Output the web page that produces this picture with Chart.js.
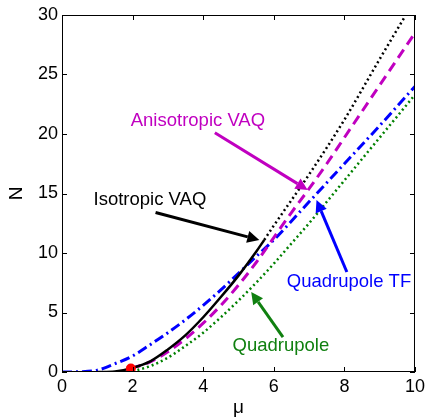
<!DOCTYPE html>
<html>
<head>
<meta charset="utf-8">
<script src="https://cdn.jsdelivr.net/npm/chart.js@4"></script>
<style>
  html, body { margin: 0; padding: 0; background: #fff; }
  #wrap { width: 429px; height: 419px; }
</style>
</head>
<body>
<div id="wrap"><canvas id="chart" width="429" height="419"></canvas></div>
<script>
// Isotropic VAQ, solid part and dotted continuation
const muIsoSolid = [1.0, 1.5, 2.0, 2.5, 3.0, 3.5, 4.0, 4.5, 5.0, 5.5, 5.73];
const nIsoSolid  = [0.0, 0.05, 0.35, 0.9, 1.9, 3.1, 4.6, 6.3, 8.1, 10.1, 11.1];
const muIsoDot = [5.73, 6.0, 7.0, 8.0, 9.0, 9.7];
const nIsoDot  = [11.1, 12.3, 16.6, 21.2, 26.3, 29.8];

// Anisotropic VAQ
const muAniso = [1.95, 2.5, 3.0, 3.5, 4.0, 4.5, 5.0, 5.5, 6.0, 6.5, 7.0, 7.5, 8.0, 8.5, 9.0, 9.5, 10.0];
const nAniso  = [0.3, 0.85, 1.7, 2.8, 4.1, 5.6, 7.3, 9.2, 11.3, 13.4, 15.4, 17.5, 19.7, 21.9, 24.1, 26.3, 28.5];

// Quadrupole TF
const muQTF = [0.0, 0.5, 1.0, 1.5, 2.0, 2.5, 3.0, 3.5, 4.0, 4.5, 5.0, 5.5, 6.0, 7.0, 8.0, 9.0, 10.0];
const nQTF  = [0.0, 0.02, 0.15, 0.7, 1.35, 2.3, 3.3, 4.4, 5.6, 6.9, 8.3, 9.7, 11.1, 14.3, 17.5, 20.7, 24.0];

// Quadrupole
const muQuad = [2.0, 2.5, 3.0, 3.5, 4.0, 4.5, 5.0, 5.5, 6.0, 6.5, 7.0, 7.5, 8.0, 8.5, 9.0, 9.5, 10.0];
const nQuad  = [0.05, 0.5, 1.2, 2.2, 3.3, 4.6, 6.0, 7.5, 9.1, 10.8, 12.5, 14.3, 16.1, 17.9, 19.7, 21.5, 23.3];

// red marker
const muDot = [1.95];
const nDot  = [0.3];

const xTicks = [0, 2, 4, 6, 8, 10];
const yTicks = [0, 5, 10, 15, 20, 25, 30];

// labels with arrows
const noteText   = ['Anisotropic VAQ', 'Isotropic VAQ', 'Quadrupole TF', 'Quadrupole'];
const noteColor  = ['#c000c0', '#000000', '#0000ff', '#108010'];
const noteMu     = [3.85, 2.49, 8.13, 6.2];
const noteN      = [21.1, 14.45, 7.56, 2.2];
const arrowFromMu = [4.33, 2.65, 8.07, 6.26];
const arrowFromN  = [20.1, 13.4, 8.4, 2.94];
const arrowToMu   = [6.96, 5.59, 7.21, 5.36];
const arrowToN    = [15.3, 11.1, 14.45, 6.72];

function pts(xs, ys) { return xs.map((x, i) => ({x: x, y: ys[i]})); }

const FONT = '"Liberation Sans", Arial, Helvetica, sans-serif';

const frame = {
  id: 'frame',
  afterDraw(chart) {
    const c = chart.ctx, a = chart.chartArea;
    const xs = chart.scales.x, ys = chart.scales.y;
    c.save();
    c.strokeStyle = '#000';
    c.lineWidth = 1;
    c.strokeRect(a.left + 0.5, a.top + 0.5, a.right - a.left - 1, a.bottom - a.top - 1);
    c.beginPath();
    xTicks.forEach(v => {
      const px = Math.round(xs.getPixelForValue(v)) + 0.5;
      c.moveTo(px, a.bottom); c.lineTo(px, a.bottom - 5);
      c.moveTo(px, a.top); c.lineTo(px, a.top + 5);
    });
    yTicks.forEach(v => {
      const py = Math.round(ys.getPixelForValue(v)) + 0.5;
      c.moveTo(a.left, py); c.lineTo(a.left + 5, py);
      c.moveTo(a.right, py); c.lineTo(a.right - 5, py);
    });
    c.stroke();

    // annotations
    c.font = '18.5px ' + FONT;
    c.textAlign = 'center';
    c.textBaseline = 'middle';
    noteText.forEach((t, i) => {
      c.fillStyle = noteColor[i];
      c.fillText(t, xs.getPixelForValue(noteMu[i]), ys.getPixelForValue(noteN[i]));
      const x0 = xs.getPixelForValue(arrowFromMu[i]), y0 = ys.getPixelForValue(arrowFromN[i]);
      const x1 = xs.getPixelForValue(arrowToMu[i]), y1 = ys.getPixelForValue(arrowToN[i]);
      const ang = Math.atan2(y1 - y0, x1 - x0);
      const hl = 12, hw = 6;
      const bx = x1 - hl * Math.cos(ang), by = y1 - hl * Math.sin(ang);
      c.strokeStyle = noteColor[i];
      c.lineWidth = 3;
      c.beginPath(); c.moveTo(x0, y0); c.lineTo(bx, by); c.stroke();
      c.beginPath();
      c.moveTo(x1, y1);
      c.lineTo(bx + hw * Math.sin(ang), by - hw * Math.cos(ang));
      c.lineTo(bx - hw * Math.sin(ang), by + hw * Math.cos(ang));
      c.closePath(); c.fill();
    });
    c.restore();
  }
};

const ctx = document.getElementById('chart').getContext('2d');
new Chart(ctx, {
  type: 'line',
  data: {
    datasets: [
      {data: pts(muDot, nDot), showLine: false, pointRadius: 5, pointBackgroundColor: '#ff0000', pointBorderWidth: 0},
      {data: pts(muIsoSolid, nIsoSolid), borderColor: '#000', borderWidth: 2.5},
      {data: pts(muIsoDot, nIsoDot), borderColor: '#000', borderWidth: 2.5, borderDash: [2, 3]},
      {data: pts(muAniso, nAniso), borderColor: '#c000c0', borderWidth: 3, borderDash: [10, 6]},
      {data: pts(muQTF, nQTF), borderColor: '#0000ff', borderWidth: 3, borderDash: [10, 4, 2, 4]},
      {data: pts(muQuad, nQuad), borderColor: '#008000', borderWidth: 2.5, borderDash: [2, 3]}
    ]
  },
  options: {
    responsive: false,
    animation: false,
    layout: {padding: {top: 15, right: 9, left: 0, bottom: 0}},
    elements: {
      line: {tension: 0.3, cubicInterpolationMode: 'monotone', fill: false},
      point: {radius: 0}
    },
    plugins: {legend: {display: false}, tooltip: {enabled: false}},
    scales: {
      x: {
        type: 'linear', min: 0, max: 10,
        afterBuildTicks: s => { s.ticks = xTicks.map(v => ({value: v})); },
        afterFit: s => { s.height = 47; },
        grid: {display: false, drawTicks: false}, border: {display: false},
        ticks: {color: '#000', font: {family: FONT, size: 18}, padding: 4},
        title: {display: true, text: 'μ', color: '#000', font: {family: FONT, size: 19}, padding: {top: 0, bottom: 0}}
      },
      y: {
        type: 'linear', min: 0, max: 30,
        afterBuildTicks: s => { s.ticks = yTicks.map(v => ({value: v})); },
        afterFit: s => { s.width = 62; },
        grid: {display: false, drawTicks: false}, border: {display: false},
        ticks: {color: '#000', font: {family: FONT, size: 18}, padding: 4},
        title: {display: true, text: 'N', color: '#000', font: {family: FONT, size: 19}, padding: {top: 5, bottom: 0}}
      }
    }
  },
  plugins: [frame]
});
</script>
</body>
</html>
